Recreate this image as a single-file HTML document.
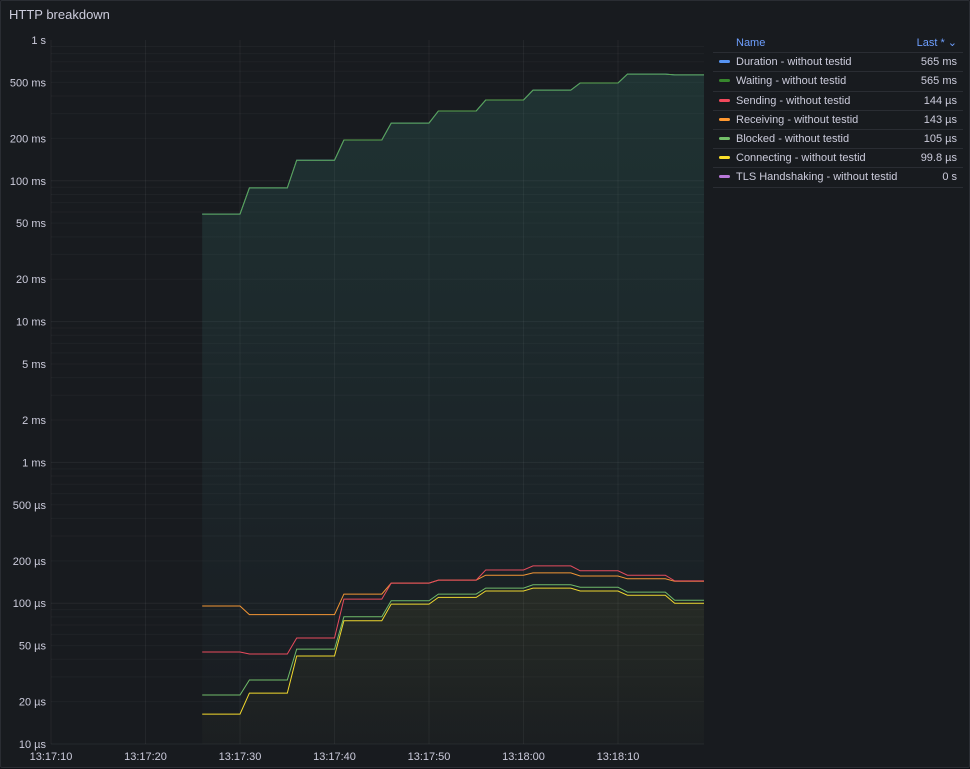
<!DOCTYPE html>
<html><head><meta charset="utf-8"><style>
body{margin:0;background:#111217;font-family:"Liberation Sans",sans-serif;}
#panel{position:absolute;left:0;top:0;width:968px;height:766px;background:#181b1f;border:1px solid #2a2d33;border-radius:2px;}
#title{position:absolute;left:8px;top:6px;color:#ccccdc;font-size:13px;}
svg{position:absolute;left:0;top:0;}
.lg{position:absolute;left:712px;width:250px;font-size:11px;color:#ccccdc;}
.row{height:18.2px;line-height:18px;border-bottom:1px solid #2a2d33;position:relative;}
.sw{position:absolute;left:6px;top:7px;width:11px;height:3px;border-radius:2px;}
.nm{position:absolute;left:23px;}
.vl{position:absolute;right:6px;}
</style></head><body>
<div id="panel">
<div id="title">HTTP breakdown</div>
<svg id="chart" width="970" height="768"></svg>
<div class="lg" style="top:33px">
<div class="row" style="color:#6e9fff"><span class="nm">Name</span><span class="vl">Last * ⌄</span></div>
<div id="rows"></div>
</div>
</div>
<script>
const blockTimes=[26,31,36,41,46,51,56,61,66,71,76];
const durationVals=[0.058,0.089,0.14,0.195,0.257,0.313,0.375,0.441,0.495,0.573,0.565];
const waitingVals=[0.058,0.089,0.14,0.195,0.257,0.313,0.375,0.441,0.495,0.573,0.565];
const sendingVals=[45e-6,43.6e-6,56.6e-6,107e-6,139e-6,146e-6,172e-6,184e-6,170e-6,158e-6,144e-6];
const receivingVals=[95.5e-6,83e-6,83e-6,116e-6,139e-6,146e-6,158e-6,164e-6,156e-6,149e-6,143e-6];
const blockedVals=[22.3e-6,28.5e-6,47.2e-6,80e-6,104e-6,116e-6,128e-6,135e-6,130e-6,120e-6,105e-6];
const connectingVals=[16.3e-6,23e-6,42.2e-6,75e-6,98.6e-6,110e-6,122e-6,128e-6,122e-6,114e-6,99.8e-6];
const seriesNames=["Duration - without testid","Waiting - without testid","Sending - without testid","Receiving - without testid","Blocked - without testid","Connecting - without testid","TLS Handshaking - without testid"];
const lastLabels=["565 ms","565 ms","144 µs","143 µs","105 µs","99.8 µs","0 s"];
const colors=["#5794f2","#37872d","#f2495c","#ff9830","#73bf69","#fade2a","#b877d9"];
const yTicks=[1,0.5,0.2,0.1,0.05,0.02,0.01,0.005,0.002,0.001,5e-4,2e-4,1e-4,5e-5,2e-5,1e-5];
const yTickLabels=["1 s","500 ms","200 ms","100 ms","50 ms","20 ms","10 ms","5 ms","2 ms","1 ms","500 µs","200 µs","100 µs","50 µs","20 µs","10 µs"];
const xTicks=[10,20,30,40,50,60,70];
const xTickLabels=["13:17:10","13:17:20","13:17:30","13:17:40","13:17:50","13:18:00","13:18:10"];
const X0=50,XS=9.45,TEND=79.1,Y0=39,YD=140.8;
const xs=t=>X0+(t-10)*XS;
const ys=v=>Y0-Math.log10(v)*YD;
const svg=document.getElementById('chart');const NS="http://www.w3.org/2000/svg";
function mk(tag,attrs,parent){const e=document.createElementNS(NS,tag);for(const k in attrs)e.setAttribute(k,attrs[k]);(parent||svg).appendChild(e);return e;}
const defs=mk('defs',{});
const g1=mk('linearGradient',{id:'gG',x1:0,y1:0,x2:0,y2:1},defs);
mk('stop',{offset:'0','stop-color':'#3a8a7a','stop-opacity':'0.22'},g1);mk('stop',{offset:'1','stop-color':'#3a6a7a','stop-opacity':'0.02'},g1);
const g2=mk('linearGradient',{id:'gY',x1:0,y1:0,x2:0,y2:1},defs);
mk('stop',{offset:'0','stop-color':'#fade2a','stop-opacity':'0.06'},g2);mk('stop',{offset:'1','stop-color':'#fade2a','stop-opacity':'0.01'},g2);
for(let e=-5;e<0;e++){for(let m=1;m<10;m++){const v=m*Math.pow(10,e);const l=mk('line',{x1:X0,x2:703,y1:ys(v),y2:ys(v),stroke:'#ffffff',"stroke-opacity":m==1?0.06:0.03});
}}
yTicks.forEach((v,i)=>{const t=mk('text',{x:45,y:ys(v)+4,'text-anchor':'end',fill:'#ccccdc','font-size':'11'});t.textContent=yTickLabels[i];
});
xTicks.forEach((tt,i)=>{const l=mk('line',{x1:xs(tt),x2:xs(tt),y1:39,y2:743,stroke:'#ffffff','stroke-opacity':0.05});

const t=mk('text',{x:xs(tt),y:759,'text-anchor':'middle',fill:'#ccccdc','font-size':'11'});t.textContent=xTickLabels[i];
});
function pts(vals){const p=[];vals.forEach((v,i)=>{const t0=blockTimes[i];const t1=i<vals.length-1?blockTimes[i+1]-1:TEND;p.push([xs(t0),ys(v)],[xs(t1),ys(v)]);});return p;}
function draw(vals,col,fill,name){const p=pts(vals);const d='M'+p.map(q=>q[0].toFixed(1)+','+q[1].toFixed(1)).join('L');
if(fill){const a=mk('path',{d:d+'L'+p[p.length-1][0]+',743L'+p[0][0]+',743Z',fill:fill});}
const l=mk('path',{d:d,fill:'none',stroke:col,'stroke-width':1});}
draw(connectingVals,colors[5],'url(#gY)','connecting');
draw(blockedVals,colors[4],null,'blocked');
draw(receivingVals,colors[3],null,'receiving');
draw(sendingVals,colors[2],null,'sending');
draw(durationVals,colors[0],null,'duration');
draw(waitingVals,'#5aa64f','url(#gG)','waiting');
const rows=document.getElementById('rows');
seriesNames.forEach((n,i)=>{const r=document.createElement('div');r.className='row';


r.innerHTML='<span class="sw" style="background:'+colors[i]+'"></span><span class="nm">'+n+'</span><span class="vl">'+lastLabels[i]+'</span>';rows.appendChild(r);});
</script>
</body></html>
